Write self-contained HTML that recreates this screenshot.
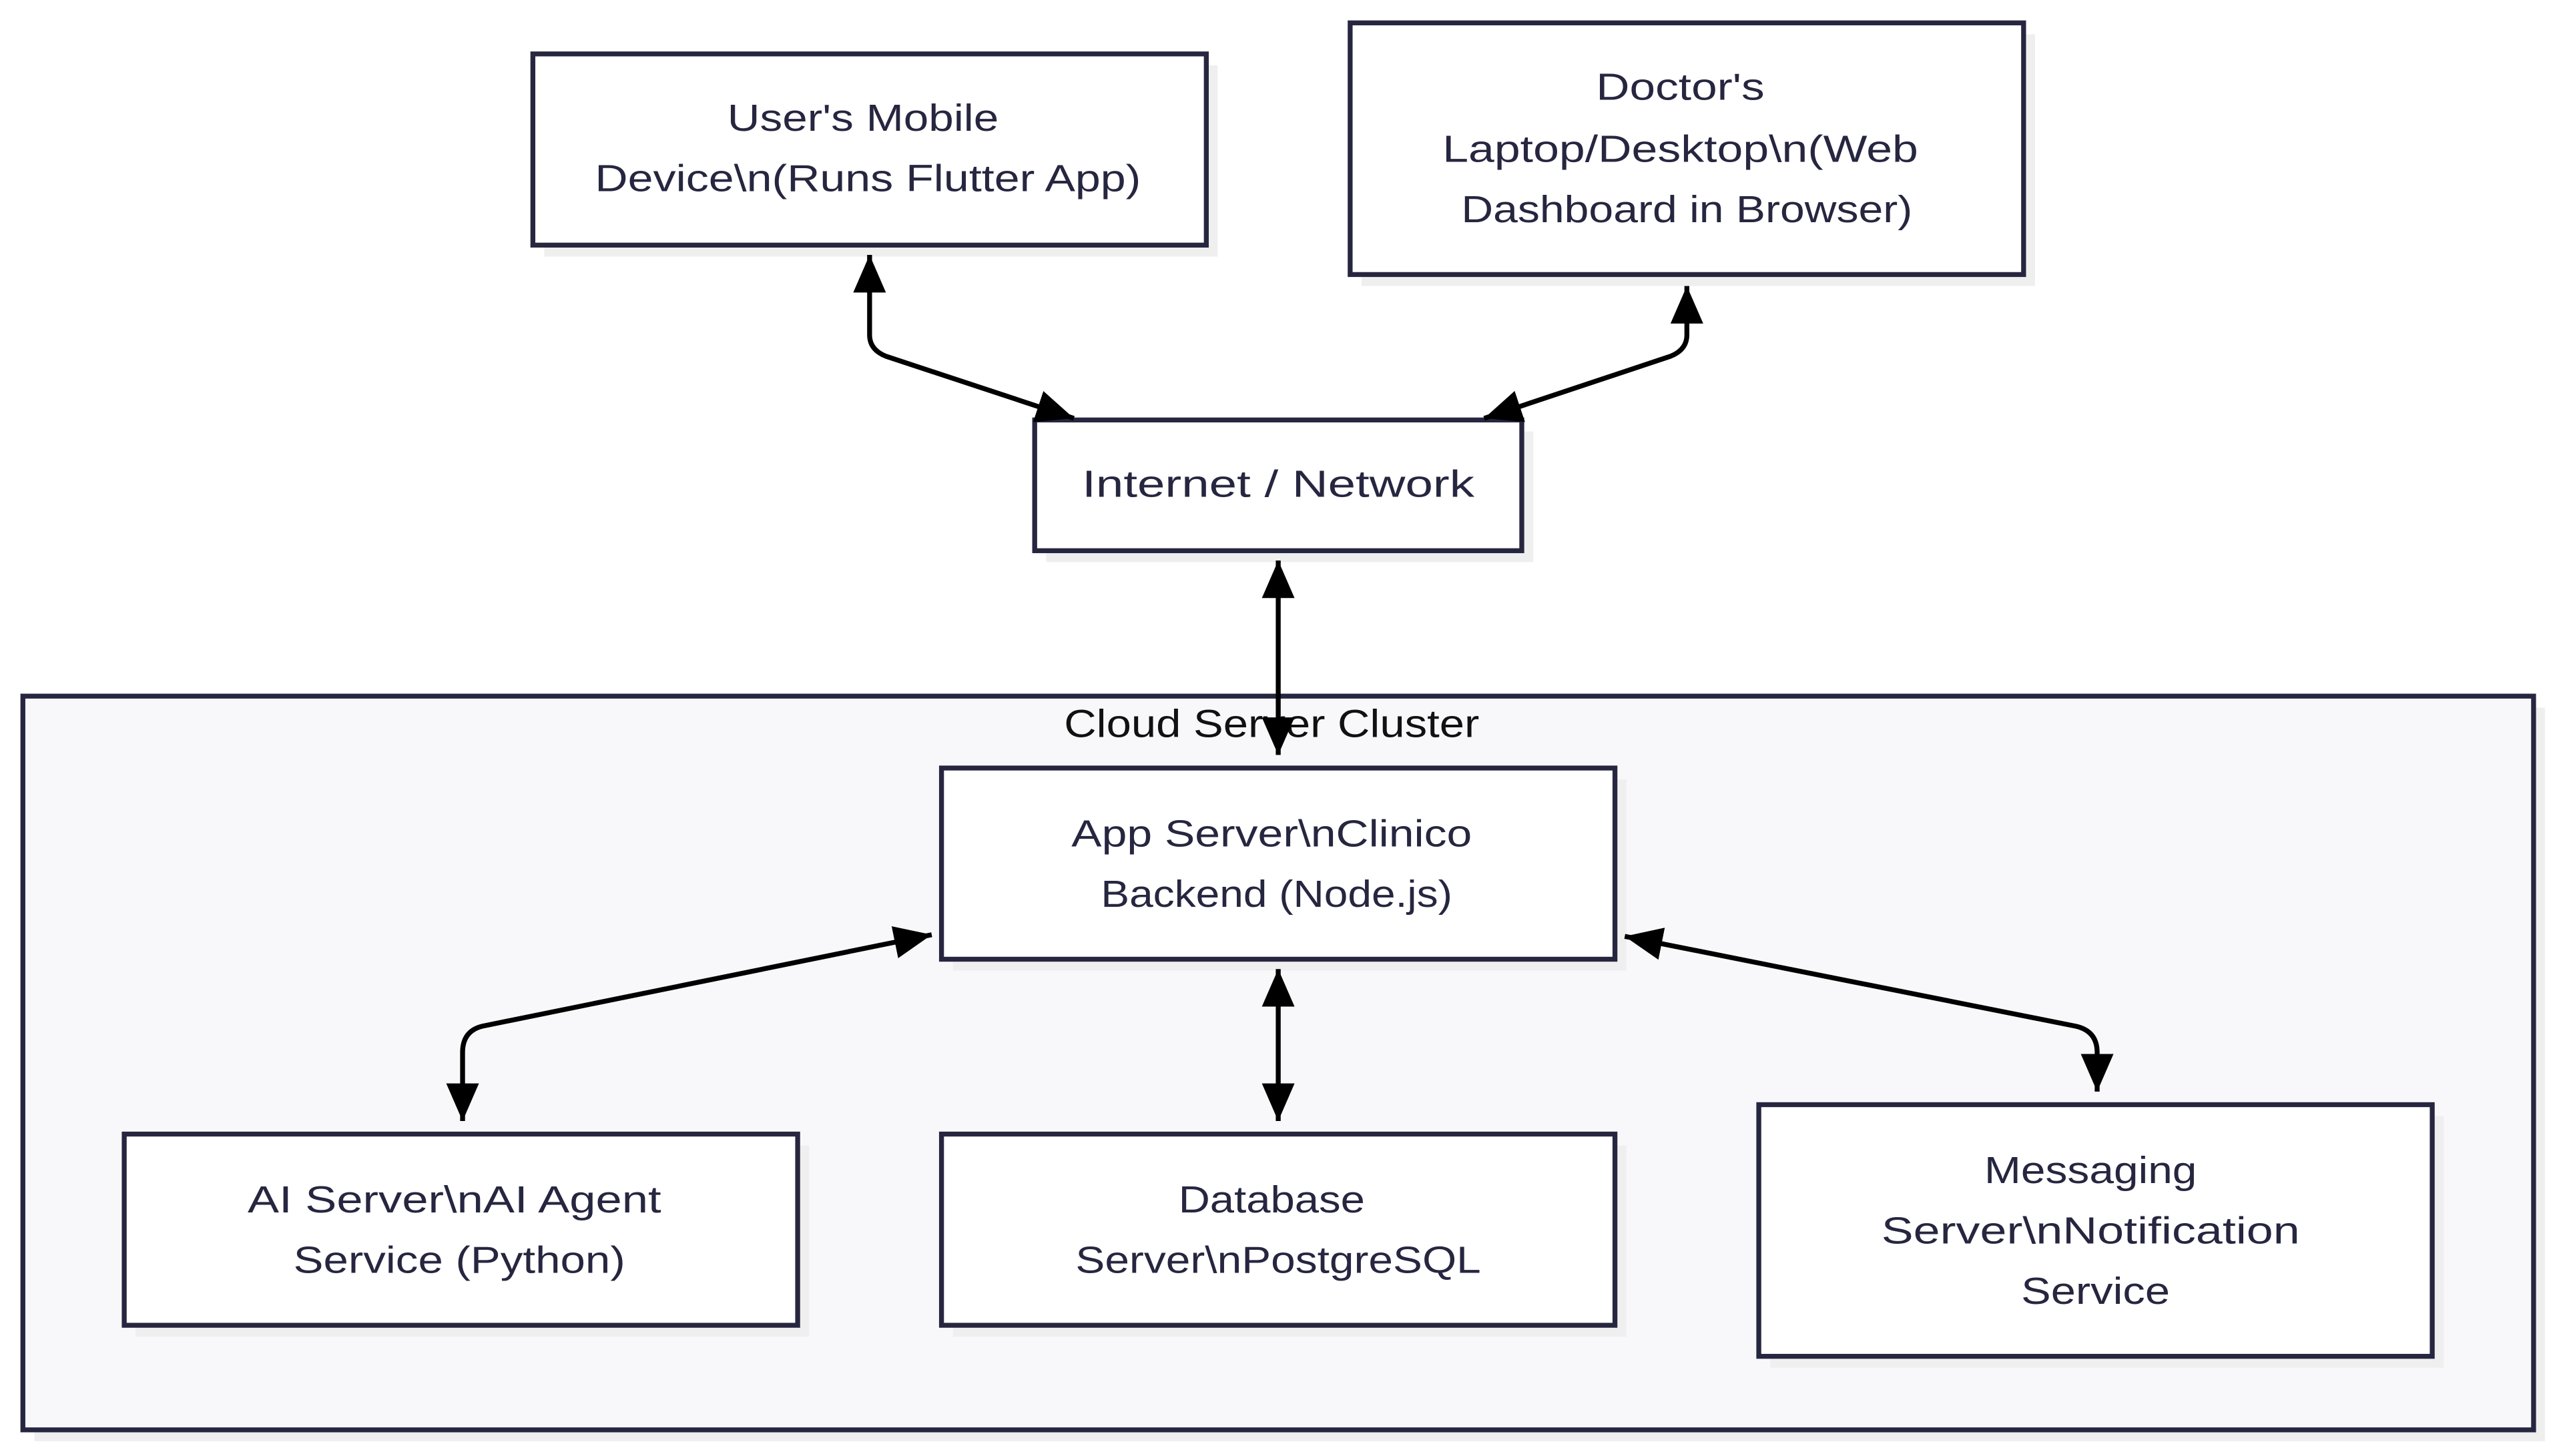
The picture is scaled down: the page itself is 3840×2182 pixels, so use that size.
<!DOCTYPE html>
<html><head><meta charset="utf-8"><style>
html,body{margin:0;padding:0;background:#fff;}
svg{display:block;}
text{font-family:"Liberation Sans",sans-serif;font-size:23px;fill:#262640;text-anchor:middle;dominant-baseline:central;}
</style></head><body>
<svg width="3840" height="2182" viewBox="0 0 1568 891" preserveAspectRatio="none" xmlns="http://www.w3.org/2000/svg">
<defs>
<marker id="a" markerUnits="userSpaceOnUse" markerWidth="26" markerHeight="22" refX="23" refY="10" orient="auto-start-reverse" viewBox="0 0 26 22">
<path d="M0,0 L23,10 L0,20 Z" fill="#000"/>
</marker>
</defs>
<rect x="21" y="433" width="1536" height="449" fill="#efefef"/>
<rect x="14" y="426" width="1536" height="449" fill="#f8f8fa" stroke="#262640" stroke-width="3"/>
<text x="778" y="443" style="fill:#111;font-size:24px" textLength="254" lengthAdjust="spacingAndGlyphs">Cloud Server Cluster</text>
<g fill="#efefef">
<rect x="333" y="40" width="412" height="117"/>
<rect x="833" y="21" width="412" height="154"/>
<rect x="640" y="264" width="298" height="80"/>
<rect x="583" y="477" width="412" height="117"/>
<rect x="83" y="701" width="412" height="117"/>
<rect x="583" y="701" width="412" height="117"/>
<rect x="1083" y="683" width="412" height="154"/>
</g>
<g fill="#fff" stroke="#262640" stroke-width="3">
<rect x="326" y="33" width="412" height="117"/>
<rect x="826" y="14" width="412" height="154"/>
<rect x="633" y="257" width="298" height="80"/>
<rect x="576" y="470" width="412" height="117"/>
<rect x="76" y="694" width="412" height="117"/>
<rect x="576" y="694" width="412" height="117"/>
<rect x="1076" y="676" width="412" height="154"/>
</g>
<g fill="none" stroke="#000" stroke-width="3" marker-start="url(#a)" marker-end="url(#a)">
<path d="M532,156 L532,205 Q532,214 542,218 L657,256"/>
<path d="M1032,175 L1032,205 Q1032,214 1022,218 L908,256"/>
<path d="M782,343 L782,462"/>
<path d="M570,572 L295,628 Q283,631 283,644 L283,686"/>
<path d="M782,593 L782,686"/>
<path d="M994,573 L1270,628 Q1283,631 1283,644 L1283,668"/>
</g>
<text x="528" y="72" textLength="166" lengthAdjust="spacingAndGlyphs">User's Mobile</text>
<text x="531" y="109" textLength="334" lengthAdjust="spacingAndGlyphs">Device\n(Runs Flutter App)</text>
<text x="1028" y="53" textLength="103" lengthAdjust="spacingAndGlyphs">Doctor's</text>
<text x="1028" y="91" textLength="291" lengthAdjust="spacingAndGlyphs">Laptop/Desktop\n(Web</text>
<text x="1032" y="128" textLength="276" lengthAdjust="spacingAndGlyphs">Dashboard in Browser)</text>
<text x="782" y="296" textLength="240" lengthAdjust="spacingAndGlyphs">Internet / Network</text>
<text x="778" y="510" textLength="245" lengthAdjust="spacingAndGlyphs">App Server\nClinico</text>
<text x="781" y="547" textLength="215" lengthAdjust="spacingAndGlyphs">Backend (Node.js)</text>
<text x="278" y="734" textLength="253" lengthAdjust="spacingAndGlyphs">AI Server\nAI Agent</text>
<text x="281" y="771" textLength="203" lengthAdjust="spacingAndGlyphs">Service (Python)</text>
<text x="778" y="734" textLength="114" lengthAdjust="spacingAndGlyphs">Database</text>
<text x="782" y="771" textLength="248" lengthAdjust="spacingAndGlyphs">Server\nPostgreSQL</text>
<text x="1279" y="716" textLength="130" lengthAdjust="spacingAndGlyphs">Messaging</text>
<text x="1279" y="753" textLength="256" lengthAdjust="spacingAndGlyphs">Server\nNotification</text>
<text x="1282" y="790" textLength="91" lengthAdjust="spacingAndGlyphs">Service</text>
</svg>
</body></html>
